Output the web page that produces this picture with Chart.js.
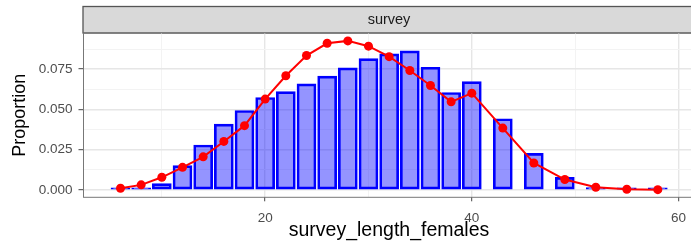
<!DOCTYPE html>
<html>
<head>
<meta charset="utf-8">
<script src="https://cdn.jsdelivr.net/npm/chart.js@4/dist/chart.umd.min.js"></script>
<style>
  html, body { margin: 0; padding: 0; background: #fff; overflow: hidden; }
  #wrap { width: 700px; height: 241px; position: relative; }
</style>
</head>
<body>
<div id="wrap"><canvas id="chart"></canvas></div>
<script>
// length bins (bar / point centres)
const lengthBins = [6, 8, 10, 12, 14, 16, 18, 20, 22, 24, 26, 28, 30, 32, 34, 36, 38, 40, 43, 46, 49, 52, 55, 58];
// observed proportions (bars)
const observed = [0.0001, 0.0007, 0.0039, 0.0151, 0.0279, 0.0409, 0.0493, 0.0574, 0.0611, 0.0659, 0.0707, 0.0758,
                  0.0816, 0.0845, 0.0864, 0.0762, 0.0605, 0.0673, 0.0442, 0.0227, 0.0078, 0.0014, 0.0002, 0.0001];
// expected proportions (red line)
const expected = [0.0010, 0.0031, 0.0078, 0.0140, 0.0205, 0.0301, 0.0399, 0.0564, 0.0709, 0.0835, 0.0911, 0.0926,
                  0.0893, 0.0828, 0.0742, 0.0649, 0.0547, 0.0601, 0.0384, 0.0167, 0.0064, 0.0016, 0.0004, 0.0001];

const xMajor = [20, 40, 60];
const xMinor = [10, 30, 50];
const yMajor = [0, 0.025, 0.05, 0.075];
const yMinor = [0.0125, 0.0375, 0.0625, 0.0875];

const panelTitle = 'survey';
const xTitle = 'survey_length_females';
const yTitle = 'Proportion';

const FONT = "'Liberation Sans', Arial, sans-serif";
Chart.defaults.font.family = FONT;

// builds tick list with minor ticks flagged
function mixTicks(major, minor) {
    const all = major.map(v => ({ value: v, minor: false }))
        .concat(minor.map(v => ({ value: v, minor: true })));
    all.sort((a, b) => a.value - b.value);
    return all;
}

function gridColor(ctx) {
    if (!ctx.tick) return 'rgba(0,0,0,0)';
    return ctx.tick.minor ? '#f3f3f3' : '#e6e6e6';
}
function gridWidth(ctx) {
    return ctx.tick && ctx.tick.minor ? 1 : 1.4;
}
function tickColor(ctx) {
    return ctx.tick && ctx.tick.minor ? 'rgba(0,0,0,0)' : '#444';
}

// facet strip + panel border
const facetPlugin = {
    id: 'facet',
    beforeDraw(chart) {
        const { ctx, chartArea } = chart;
        ctx.save();
        ctx.fillStyle = '#d9d9d9';
        ctx.fillRect(chartArea.left, 6.5, chartArea.right - chartArea.left, chartArea.top - 6.5);
        ctx.strokeStyle = '#555';
        ctx.lineWidth = 1.3;
        ctx.strokeRect(chartArea.left, 6.5, chartArea.right - chartArea.left, chartArea.top - 6.5);
        ctx.fillStyle = '#1a1a1a';
        ctx.font = '14.5px ' + FONT;
        ctx.textAlign = 'center';
        ctx.textBaseline = 'middle';
        ctx.fillText(panelTitle, (chartArea.left + chartArea.right) / 2, (6.5 + chartArea.top) / 2 + 0.5);
        ctx.restore();
    },
    afterDraw(chart) {
        const { ctx, chartArea } = chart;
        ctx.save();
        ctx.strokeStyle = '#777';
        ctx.lineWidth = 1;
        ctx.strokeRect(chartArea.left + 0.5, chartArea.top, chartArea.right - chartArea.left, chartArea.bottom - chartArea.top);
        ctx.restore();
    }
};

new Chart(document.getElementById('chart'), {
    type: 'bar',
    data: {
        datasets: [
            {
                type: 'line',
                label: 'expected',
                data: lengthBins.map((x, i) => ({ x: x, y: expected[i] })),
                borderColor: '#ff0000',
                backgroundColor: '#ff0000',
                borderWidth: 2,
                pointRadius: 4.5,
                pointBorderWidth: 0,
                tension: 0,
                order: 0
            },
            {
                type: 'bar',
                label: 'observed',
                data: lengthBins.map((x, i) => ({ x: x, y: observed[i] })),
                backgroundColor: 'rgba(0,0,255,0.42)',
                borderColor: '#0000ff',
                borderWidth: 2,
                borderSkipped: false,
                barThickness: 19,
                minBarLength: 2,
                order: 1
            }
        ]
    },
    options: {
        responsive: true,
        maintainAspectRatio: false,
        animation: false,
        layout: { padding: { top: 33, right: 5, left: 0, bottom: 0 } },
        plugins: { legend: { display: false }, tooltip: { enabled: false } },
        scales: {
            x: {
                type: 'linear',
                min: 2.37,
                max: 61.6,
                offset: false,
                afterBuildTicks: scale => { scale.ticks = mixTicks(xMajor, xMinor); },
                afterFit: scale => { scale.height = 43.7; },
                grid: {
                    offset: false,
                    color: gridColor,
                    lineWidth: gridWidth,
                    tickColor: tickColor,
                    tickLength: 4,
                    tickWidth: 1
                },
                border: { display: false },
                ticks: {
                    autoSkip: false,
                    maxRotation: 0,
                    padding: 9,
                    color: '#4d4d4d',
                    font: { size: 13.5 },
                    callback: (v, i, ticks) => ticks[i].minor ? '' : String(v)
                },
                title: {
                    display: true,
                    text: xTitle,
                    color: '#000',
                    font: { size: 19.5 },
                    padding: { top: 0, bottom: -1 }
                }
            },
            y: {
                type: 'linear',
                min: -0.00463,
                max: 0.0975,
                afterBuildTicks: scale => { scale.ticks = mixTicks(yMajor, yMinor); },
                afterFit: scale => { scale.width = 83; },
                grid: {
                    color: gridColor,
                    lineWidth: gridWidth,
                    tickColor: tickColor,
                    tickLength: 4.5,
                    tickWidth: 1
                },
                border: { display: false },
                ticks: {
                    autoSkip: false,
                    padding: 6,
                    color: '#4d4d4d',
                    font: { size: 13.5 },
                    callback: (v, i, ticks) => ticks[i].minor ? '' : v.toFixed(3)
                },
                title: {
                    display: true,
                    text: yTitle,
                    color: '#000',
                    font: { size: 18 },
                    padding: { top: 9, bottom: 0 }
                }
            }
        }
    },
    plugins: [facetPlugin]
});
</script>
</body>
</html>
